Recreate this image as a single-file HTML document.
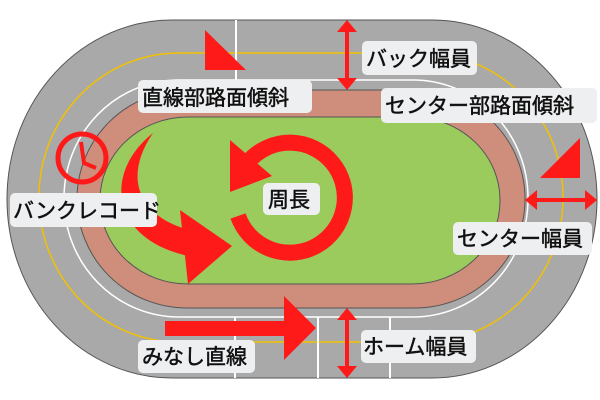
<!DOCTYPE html>
<html><head><meta charset="utf-8"><style>
body{margin:0;width:600px;height:400px;background:#fff;overflow:hidden}
svg{display:block}
text{font-family:"Liberation Sans","Noto Sans CJK JP",sans-serif;font-size:21px;fill:#111;stroke:#111;stroke-width:0.5}
</style></head><body>
<svg width="600" height="400" viewBox="0 0 600 400">
<rect x="7" y="20" width="590" height="358" rx="165" ry="179" fill="#a9a9a9" stroke="#555" stroke-width="1"/>
<rect x="39" y="53" width="524" height="289" rx="140" ry="144" fill="none" stroke="#f3c100" stroke-width="1.5"/>
<rect x="64" y="80" width="464" height="237" rx="115" ry="118" fill="none" stroke="#fff" stroke-width="1.5"/>
<g stroke="#fff" stroke-width="2">
<line x1="236" y1="20" x2="236" y2="80"/>
<line x1="235" y1="317" x2="235" y2="378"/>
<line x1="318" y1="317" x2="318" y2="378"/>
<line x1="390" y1="317" x2="390" y2="378"/>
</g>
<rect x="77" y="90" width="448" height="218" rx="110" ry="109" fill="#cf8d7c" stroke="#555" stroke-width="1"/>
<rect x="100" y="117" width="400" height="167" rx="88" ry="83" fill="#9bcb5c" stroke="#555" stroke-width="1"/>
<g fill="#ff1a1a">
<polygon points="205,30 205,70 246,70"/>
<polygon points="580,138 580,178 540,178"/>
<circle cx="82" cy="158" r="24" fill="none" stroke="#ff1a1a" stroke-width="5"/>
<polyline points="81,142 84,163 96,168" fill="none" stroke="#ff1a1a" stroke-width="4"/>
<path d="M238,216 A55 55 0 1 0 248,162" fill="none" stroke="#ff1a1a" stroke-width="16"/>
<polygon points="230,140 230,192 272,176"/>
<path d="M153,133 C100,175 112,246 200,258 L198,232 C138,220 122,178 153,133 Z"/>
<polygon points="180,210 232,246 188,284"/>
<rect x="165" y="321" width="122" height="15"/>
<polygon points="284,296 316,328 284,360"/>
<rect x="345" y="30" width="4" height="50"/><polygon points="337,32 347,20 357,32"/><polygon points="337,78 347,90 357,78"/>
<rect x="345" y="318" width="4" height="50"/><polygon points="337,320 347,308 357,320"/><polygon points="337,366 347,378 357,366"/>
<rect x="535" y="198" width="52" height="4"/><polygon points="537,190 525,200 537,210"/><polygon points="585,190 597,200 585,210"/>
</g>
<g fill="#eeeff1">
<rect x="362" y="41" width="115" height="34" rx="5"/>
<rect x="138" y="80" width="174" height="33" rx="5"/>
<rect x="381" y="88" width="216" height="35" rx="5"/>
<rect x="10" y="193" width="147" height="34" rx="5"/>
<rect x="263" y="183" width="57" height="32" rx="5"/>
<rect x="453" y="222" width="139" height="33" rx="5"/>
<rect x="361" y="330" width="115" height="33" rx="5"/>
<rect x="138" y="340" width="117" height="33" rx="5"/>
</g>
<text x="366" y="66">バック幅員</text>
<text x="142" y="105">直線部路面傾斜</text>
<text x="385" y="113">センター部路面傾斜</text>
<text x="13" y="218">バンクレコード</text>
<text x="268" y="207">周長</text>
<text x="457" y="246">センター幅員</text>
<text x="363" y="354">ホーム幅員</text>
<text x="142" y="364">みなし直線</text>
</svg>
</body></html>
